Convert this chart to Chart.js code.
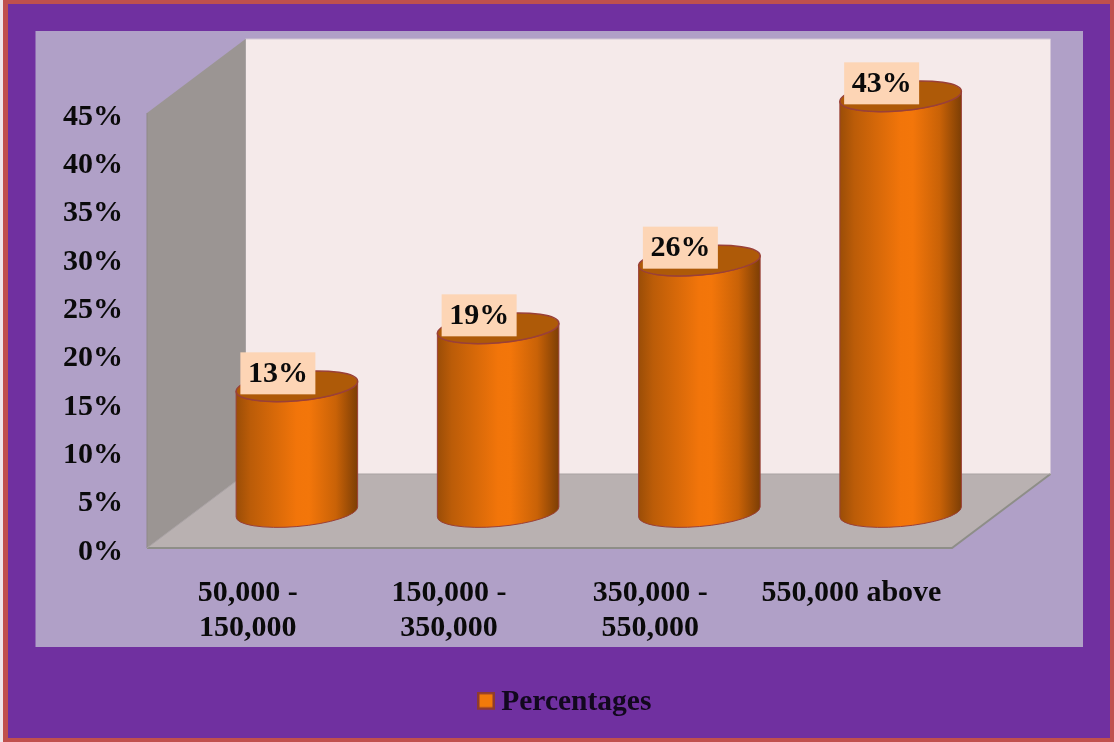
<!DOCTYPE html>
<html>
<head>
    <title>Percentages</title>
    <script src="https://cdn.jsdelivr.net/npm/chart.js"></script>
    <style>
        html, body { margin: 0; padding: 0; background: #efe6ea; }
        canvas { display: block; }
    </style>
</head>
<body>
<canvas id="chart" width="1114" height="742"></canvas>

<script>

/* DATA */
const categories = [["50,000 -", "150,000"], ["150,000 -", "350,000"], ["350,000 -", "550,000"], "550,000 above"];
const percentages = [13, 19, 26, 43];
const seriesName = "Percentages";

const serif = "'Liberation Serif', 'Times New Roman', serif";

/* depth of the fake 3D box, front plane to back wall */
const depthX = 98.5;
const depthY = -74;

/* LEGEND SWATCH, canvas is taller than the square so it sits a bit above the text centre */
const swatch = document.createElement("canvas");
swatch.width = 18;
swatch.height = 22;
const sw = swatch.getContext("2d");
sw.fillStyle = "#8f3b2e";
sw.fillRect(0, 0, 18, 18);
sw.fillStyle = "#f27a0a";
sw.fillRect(2.5, 2.5, 13, 13);

/* FRAME */
function drawFrame(ctx) {
    ctx.fillStyle = "#c0504d";
    ctx.fillRect(3, 0, 1111, 742);
    ctx.fillStyle = "#7030a0";
    ctx.fillRect(8, 4, 1102, 734);
    ctx.fillStyle = "#b0a0c7";
    ctx.fillRect(35.5, 31, 1047.5, 616);
}

/* WALLS AND FLOOR */
function poly(ctx, pts, fill) {
    ctx.beginPath();
    pts.forEach((p, i) => i ? ctx.lineTo(p[0], p[1]) : ctx.moveTo(p[0], p[1]));
    ctx.closePath();
    ctx.fillStyle = fill;
    ctx.fill();
}

function drawBox(chart) {
    const ctx = chart.ctx;
    const { left, right, top, bottom } = chart.chartArea;
    const backL = left + depthX, backR = right + depthX;
    const backT = top + depthY, backB = bottom + depthY;

    ctx.save();
    ctx.fillStyle = "#f5eaea";
    ctx.fillRect(backL, backT, backR - backL, backB - backT);
    ctx.strokeStyle = "#d3c8d3";
    ctx.lineWidth = 1;
    ctx.beginPath();
    ctx.moveTo(backL, backT);
    ctx.lineTo(backR, backT);
    ctx.stroke();

    poly(ctx, [[left, top], [backL, backT], [backL, backB], [left, bottom]], "#9b9593");
    poly(ctx, [[left, bottom], [backL, backB], [backR, backB], [right, bottom]], "#b9b1b1");

    /* floor and wall edges */
    ctx.strokeStyle = "#8e8e88";
    ctx.lineWidth = 2;
    ctx.beginPath();
    ctx.moveTo(left, bottom);
    ctx.lineTo(right, bottom);
    ctx.lineTo(backR, backB);
    ctx.stroke();
    ctx.lineWidth = 1;
    ctx.beginPath();
    ctx.moveTo(left, top);
    ctx.lineTo(left, bottom);
    ctx.strokeStyle = "#8f8987";
    ctx.stroke();
    ctx.beginPath();
    ctx.moveTo(left, bottom);
    ctx.lineTo(backL, backB);
    ctx.lineTo(backR, backB);
    ctx.moveTo(backL, backT);
    ctx.lineTo(backL, backB);
    ctx.strokeStyle = "#a9a3a3";
    ctx.stroke();
    ctx.restore();
}

/* CYLINDERS, placed half way into the box from each bar element */
function drawCylinder(ctx, bar) {
    const cx = bar.x + depthX / 2;
    const topY = bar.y + depthY / 2 + 1;
    const baseY = bar.base + depthY / 2 + 1;
    const rx = bar.width / 2;
    const ry = 14.5;
    const tilt = -5 * Math.PI / 180;
    const t0 = Math.atan(-(ry / rx) * Math.tan(tilt));

    const body = ctx.createLinearGradient(cx - rx, 0, cx + rx, 0);
    body.addColorStop(0, "#9a4d07");
    body.addColorStop(0.12, "#bb5c08");
    body.addColorStop(0.5, "#f2750a");
    body.addColorStop(0.6, "#f3760a");
    body.addColorStop(0.82, "#c96207");
    body.addColorStop(1, "#7c3e05");

    ctx.save();
    ctx.beginPath();
    ctx.ellipse(cx, baseY, rx, ry, tilt, t0, t0 + Math.PI, false);
    ctx.ellipse(cx, topY, rx, ry, tilt, t0 + Math.PI, t0, true);
    ctx.closePath();
    ctx.fillStyle = body;
    ctx.fill();
    ctx.strokeStyle = "#9a4038";
    ctx.lineWidth = 1;
    ctx.stroke();

    ctx.beginPath();
    ctx.ellipse(cx, topY, rx, ry, tilt, 0, Math.PI * 2);
    ctx.fillStyle = "#ae5a08";
    ctx.fill();
    ctx.lineWidth = 1.5;
    ctx.strokeStyle = "#9a4038";
    ctx.stroke();
    ctx.restore();
}

/* VALUE LABELS */
function drawValueLabel(ctx, bar, value) {
    const cx = bar.x + depthX / 2 - 19;
    const cy = bar.y + depthY / 2 - 12;
    ctx.save();
    ctx.fillStyle = "#fdd5b5";
    ctx.fillRect(cx - 37.5, cy - 21, 75, 42);
    ctx.fillStyle = "#0a0a0a";
    ctx.font = "bold 30px " + serif;
    ctx.textAlign = "center";
    ctx.textBaseline = "middle";
    ctx.fillText(value + "%", cx, cy + 1);
    ctx.restore();
}

const cylinderPlugin = {
    id: "cylinders",
    beforeDraw(chart) {
        drawFrame(chart.ctx);
    },
    afterLayout(chart) {
        /* legend sits under the panel, not in the plot */
        const legend = chart.legend;
        legend.left = 476.5;
        legend.right = 800;
        legend.top = 679;
        legend.bottom = 737;
    },
    beforeDatasetsDraw(chart) {
        drawBox(chart);
    },
    afterDatasetsDraw(chart) {
        const bars = chart.getDatasetMeta(0).data;
        bars.forEach(bar => drawCylinder(chart.ctx, bar));
        bars.forEach((bar, i) => drawValueLabel(chart.ctx, bar, percentages[i]));
    }
};

new Chart(document.getElementById("chart"), {
    type: "bar",
    data: {
        labels: categories,
        datasets: [{
            label: seriesName,
            data: percentages,
            backgroundColor: "transparent",
            borderWidth: 0,
            categoryPercentage: 1,
            barPercentage: 0.606
        }]
    },
    options: {
        responsive: false,
        animation: false,
        layout: { padding: { top: 113, right: 162, left: 0, bottom: 0 } },
        plugins: {
            tooltip: { enabled: false },
            legend: {
                position: "chartArea",
                align: "start",
                labels: {
                    usePointStyle: true,
                    pointStyle: swatch,
                    pointStyleWidth: 1,
                    boxHeight: 18,
                    padding: 9,
                    color: "#12081e",
                    font: { family: serif, size: 29.5, weight: "bold" }
                }
            }
        },
        scales: {
            x: {
                afterFit: s => { s.height = 194; },
                grid: { display: false },
                border: { display: false },
                ticks: {
                    autoSkip: false,
                    maxRotation: 0,
                    padding: 20,
                    color: "#0a0a0a",
                    font: { family: serif, size: 30, weight: "bold", lineHeight: 1.167 }
                }
            },
            y: {
                min: 0,
                max: 45,
                afterFit: s => { s.width = 147; },
                grid: { display: false },
                border: { display: false },
                ticks: {
                    stepSize: 5,
                    padding: 16,
                    labelOffset: 4,
                    color: "#0a0a0a",
                    font: { family: serif, size: 30, weight: "bold" },
                    callback: v => v + "%"
                }
            }
        }
    },
    plugins: [cylinderPlugin]
});

</script>
</body>
</html>
